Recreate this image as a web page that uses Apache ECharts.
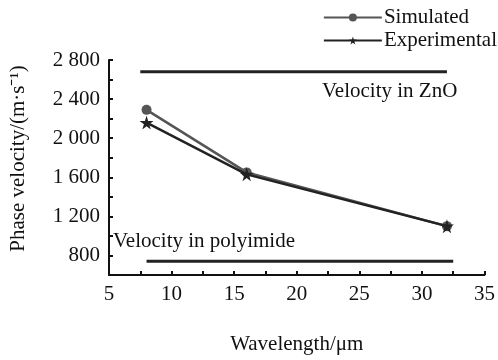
<!DOCTYPE html>
<html>
<head>
<meta charset="utf-8">
<script src="https://cdn.jsdelivr.net/npm/echarts@6/dist/echarts.min.js"></script>
<style>
  html, body { margin: 0; padding: 0; background: #fff; }
  #chart { width: 498px; height: 360px; }
</style>
</head>
<body>
<div id="chart"></div>
<script>
const wavelengths = [8, 16, 32];
const simulated = [2290, 1650, 1100];
const experimental = [2160, 1630, 1100];
const znoLine = [[7.5, 2680], [32, 2680]];
const polyimideLine = [[8, 740], [32.5, 740]];
const font = "Liberation Serif";

function toPairs(xs, ys) {
  return xs.map((x, i) => [x, ys[i]]);
}

const el = document.getElementById("chart");
const chart = echarts.init(el);
chart.setOption({
  animation: false,
  backgroundColor: "#fff",
  textStyle: { fontFamily: font, color: "#111" },
  grid: { left: 106, right: 13, top: 60, bottom: 82 },
  legend: {
    orient: "vertical",
    right: 1,
    top: 7,
    padding: 0,
    itemWidth: 58,
    itemHeight: 10,
    itemGap: 2,
    textStyle: {
      fontFamily: font,
      fontSize: 21,
      lineHeight: 18,
      height: 18,
      color: "#111",
      padding: [0, 0, 0, -3],
    },
    data: ["Simulated", "Experimental"],
  },
  xAxis: {
    type: "value",
    min: 5,
    max: 35,
    interval: 2.5,
    name: "Wavelength/μm",
    nameLocation: "middle",
    nameGap: 59,
    nameTextStyle: { fontFamily: font, fontSize: 21, color: "#111" },
    axisLine: { lineStyle: { color: "#111", width: 2 } },
    axisTick: { inside: true, length: 4, lineStyle: { color: "#111", width: 2 } },
    axisLabel: {
      fontFamily: font,
      fontSize: 21,
      color: "#111",
      margin: 9,
      formatter: (v) => (v % 5 === 0 ? String(v) : ""),
    },
    splitLine: { show: false },
  },
  yAxis: {
    type: "value",
    min: 600,
    max: 2800,
    interval: 200,
    name: "Phase velocity/(m·s⁻¹)",
    nameLocation: "middle",
    nameGap: 80,
    nameTextStyle: { fontFamily: font, fontSize: 21, color: "#111", padding: [0, 0, 0, 18] },
    axisLine: { show: true, lineStyle: { color: "#111", width: 2 } },
    axisTick: { show: true, inside: true, length: 4, lineStyle: { color: "#111", width: 2 } },
    axisLabel: {
      fontFamily: font,
      fontSize: 21,
      color: "#111",
      margin: 9,
      formatter: (v) => {
        if (v < 800 || (v - 800) % 400 !== 0) return "";
        return v >= 1000 ? Math.floor(v / 1000) + " " + String(v % 1000).padStart(3, "0") : String(v);
      },
    },
    splitLine: { show: false },
  },
  series: [
    {
      name: "Simulated",
      type: "line",
      data: toPairs(wavelengths, simulated),
      symbol: "circle",
      symbolSize: 10,
      lineStyle: { color: "#555", width: 2.5 },
      itemStyle: { color: "#555" },
      z: 3,
    },
    {
      name: "Experimental",
      type: "line",
      data: toPairs(wavelengths, experimental),
      symbol: "path://M50,0 L61,35 L98,35 L68,57 L79,91 L50,70 L21,91 L32,57 L2,35 L39,35 Z",
      symbolSize: 14,
      lineStyle: { color: "#222", width: 2.5 },
      itemStyle: { color: "#222" },
      z: 4,
    },
    {
      name: "ZnO",
      type: "line",
      data: znoLine,
      symbol: "none",
      lineStyle: { color: "#222", width: 3 },
      silent: true,
    },
    {
      name: "Polyimide",
      type: "line",
      data: polyimideLine,
      symbol: "none",
      lineStyle: { color: "#222", width: 3 },
      silent: true,
    },
  ],
  graphic: [
    {
      type: "text",
      left: 322,
      top: 81,
      style: { text: "Velocity in ZnO", font: "21px " + font, fill: "#111" },
    },
    {
      type: "text",
      left: 113,
      top: 231,
      style: { text: "Velocity in polyimide", font: "21px " + font, fill: "#111" },
    },
  ],
});
</script>
</body>
</html>
